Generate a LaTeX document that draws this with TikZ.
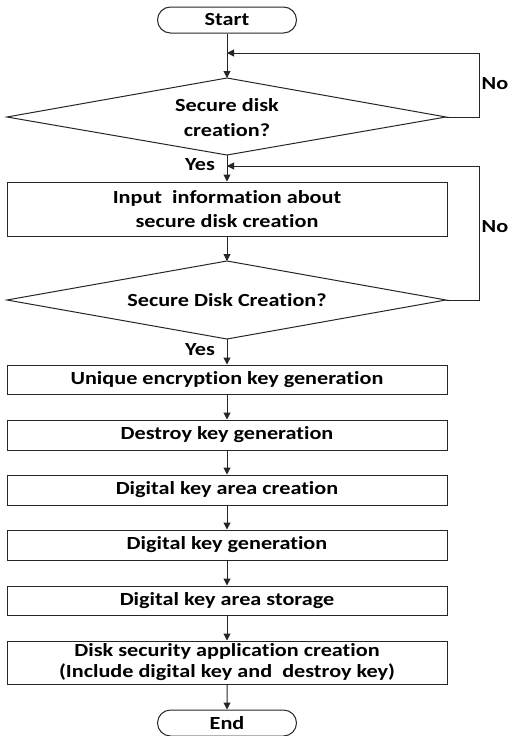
\documentclass[tikz,border=0pt]{standalone}
\usepackage{fontspec}
\setmainfont{Carlito}[FakeStretch=1.2, Ligatures=NoCommon]
\usetikzlibrary{shapes.geometric,shapes.misc,arrows.meta}
\begin{document}
\begin{tikzpicture}[x=1pt,y=-1pt,
  every node/.style={font=\bfseries\fontsize{18.5}{24}\selectfont, text=black},
  term/.style={draw=black!85, line width=1pt, rounded rectangle, minimum width=139pt, minimum height=26pt, inner sep=0pt},
  proc/.style={draw=black!85, line width=1pt, rectangle, minimum width=440pt, inner sep=0pt, align=center},
  flow/.style={draw=black!85, line width=1pt, -{Triangle[length=7pt,width=7pt]}},
  lbl/.style={inner sep=0pt}
]
\useasboundingbox (0,0) rectangle (507,736);

% terminals
\node[term] (start) at (227,20) {Start};
\node[term] (stop) at (227,723) {End};

% decisions drawn as plain polygons
\coordinate (d1t) at (227,78);
\coordinate (d1b) at (227,155);
\coordinate (d1l) at (7,117);
\coordinate (d1r) at (446,117);
\draw[black!85, line width=1pt] (d1t) -- (d1r) -- (d1b) -- (d1l) -- cycle;
\node[align=center, inner sep=0pt, font=\bfseries\fontsize{18.5}{25}\selectfont] (q1) at (227,117.5) {Secure disk\\creation?};

\coordinate (d2t) at (227,261);
\coordinate (d2b) at (227,339);
\coordinate (d2l) at (7,300);
\coordinate (d2r) at (446,300);
\draw[black!85, line width=1pt] (d2t) -- (d2r) -- (d2b) -- (d2l) -- cycle;
\node[inner sep=0pt] (q2) at (227,300) {Secure Disk Creation?};

% process boxes
\node[proc, minimum height=54pt] (info) at (227,209) {Input \ information about\\secure disk creation};
\node[proc, minimum height=29pt] (uniq) at (227,379.5) {Unique encryption key generation};
\node[proc, minimum height=30pt] (dest) at (227,435) {Destroy key generation};
\node[proc, minimum height=30pt] (area) at (227,490) {Digital key area creation};
\node[proc, minimum height=30pt] (dkey) at (227,545) {Digital key generation};
\node[proc, minimum height=29pt] (stor) at (227,600.5) {Digital key area storage};
\node[proc, minimum height=43pt, font=\bfseries\fontsize{18.5}{21}\selectfont] (app) at (227,662.5) {Disk security application creation\\(Include digital key and \ destroy key)};

% main flow
\draw[flow] (start) -- (d1t);
\draw[flow] (d1b) -- (info);
\draw[flow] (info) -- (d2t);
\draw[flow] (d2b) -- (uniq);
\draw[flow] (uniq) -- (dest);
\draw[flow] (dest) -- (area);
\draw[flow] (area) -- (dkey);
\draw[flow] (dkey) -- (stor);
\draw[flow] (stor) -- (app);
\draw[flow] (app) -- (stop);

% loops back on "No"
\coordinate (j1) at (227,53);
\coordinate (j2) at (227,166);
\draw[flow] (d1r) -- (479,117) -- (479,53) -- (j1);
\draw[flow] (d2r) -- (479,300) -- (479,166) -- (j2);

% labels
\node[lbl] (no1) at (495,84) {No};
\node[lbl] (no2) at (495,227) {No};
\node[lbl] (yes1) at (200,165) {Yes};
\node[lbl] (yes2) at (200,350) {Yes};
\end{tikzpicture}
\end{document}
